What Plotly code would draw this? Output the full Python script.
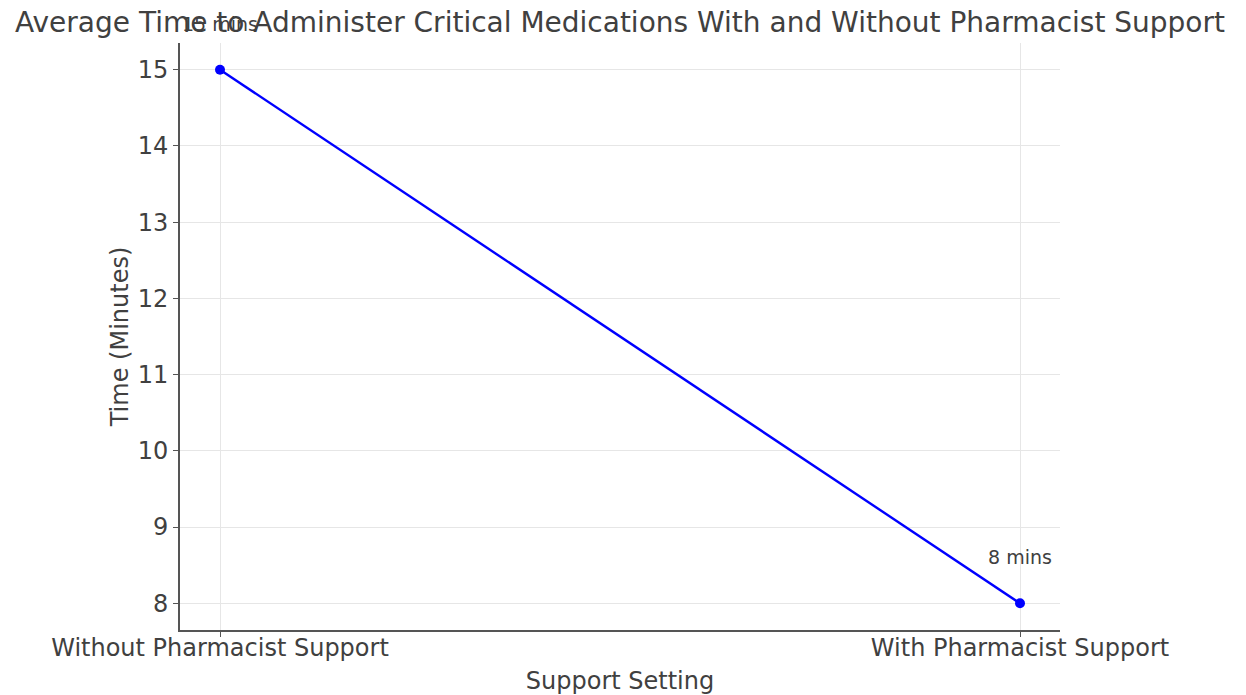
import plotly.graph_objects as go

# Average administration time per support setting
settings = ["Without Pharmacist Support", "With Pharmacist Support"]
minutes = [15, 8]
labels = ["15 mins", "8 mins"]
y_ticks = [8, 9, 10, 11, 12, 13, 14, 15]

FONT = "DejaVu Sans"
TEXT = "#404040"

fig = go.Figure()
fig.add_trace(go.Scatter(
    x=settings,
    y=minutes,
    mode="lines+markers",
    line=dict(color="#0000ff", width=2.4),
    marker=dict(color="#0000ff", size=10),
    showlegend=False,
    hoverinfo="skip",
))

for s, m, lab in zip(settings, minutes, labels):
    fig.add_annotation(
        x=s, y=m, text=lab, showarrow=False,
        yshift=46, font=dict(family=FONT, size=19, color=TEXT),
    )

fig.update_layout(
    width=1246,
    height=695,
    margin=dict(l=180, r=186, t=43, b=65),
    paper_bgcolor="white",
    plot_bgcolor="white",
    font=dict(family=FONT, color=TEXT),
    title=dict(
        text="Average Time to Administer Critical Medications With and Without Pharmacist Support",
        x=0.5, xanchor="center", xref="paper",
        y=0.968, yanchor="middle",
        font=dict(family=FONT, size=28, color=TEXT),
    ),
)

fig.update_xaxes(
    type="category",
    range=[-0.05, 1.05],
    automargin=False,
    showline=True, linecolor="#555555", linewidth=2,
    ticks="outside", ticklen=5, tickcolor="#555555",
    ticklabelstandoff=-10,
    showgrid=True, gridcolor="#e6e6e6", gridwidth=1,
    tickfont=dict(family=FONT, size=24, color=TEXT),
    title=dict(text="Support Setting", font=dict(family=FONT, size=24, color=TEXT), standoff=20),
    zeroline=False,
)
fig.update_yaxes(
    range=[7.65, 15.35],
    tickvals=y_ticks,
    automargin=False,
    showline=True, linecolor="#555555", linewidth=2,
    ticks="outside", ticklen=5, tickcolor="#555555",
    showgrid=True, gridcolor="#e6e6e6", gridwidth=1,
    tickfont=dict(family=FONT, size=24, color=TEXT),
    title=dict(text="Time (Minutes)", font=dict(family=FONT, size=24, color=TEXT), standoff=2),
    zeroline=False,
)

fig.write_html("out.html")
